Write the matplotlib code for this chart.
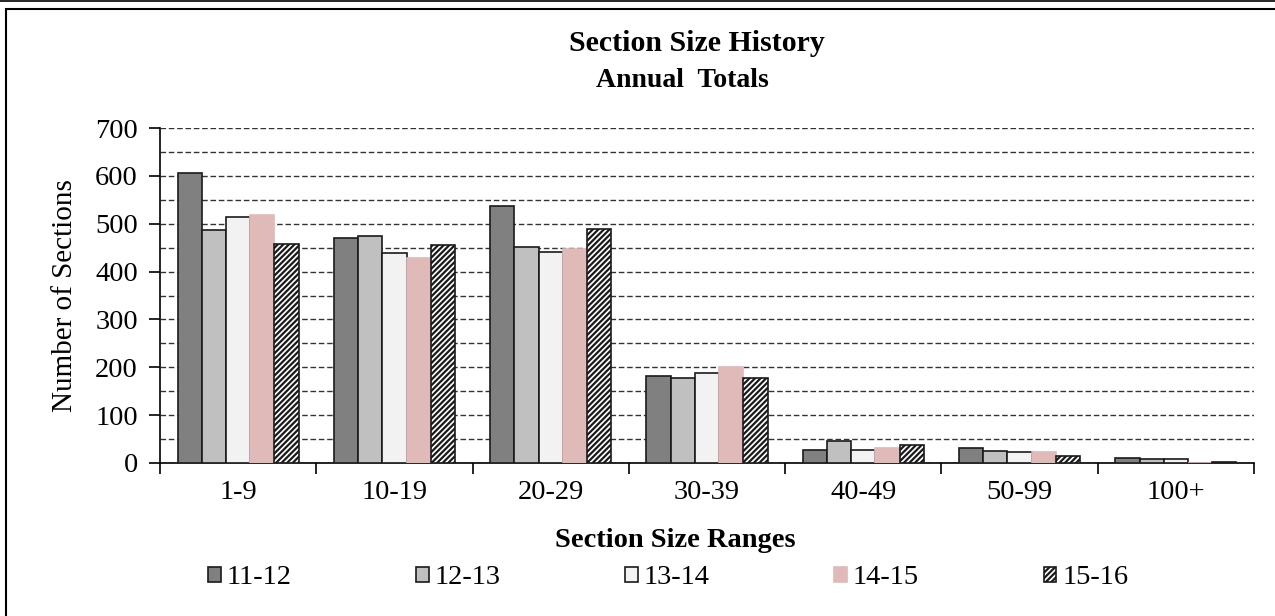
import matplotlib
matplotlib.use("Agg")
import matplotlib.pyplot as plt
import numpy as np
from matplotlib.patches import Rectangle
from matplotlib.lines import Line2D

plt.rcParams.update({'font.family': 'Liberation Serif'})
plt.rcParams.update({'hatch.linewidth': 1.6})

# Chart data
categories = ["1-9", "10-19", "20-29", "30-39", "40-49", "50-99", "100+"]
series_names = ["11-12", "12-13", "13-14", "14-15", "15-16"]
v_11_12 = [606, 470, 538, 182, 28, 31, 11]
v_12_13 = [487, 475, 452, 177, 45, 25, 8]
v_13_14 = [515, 438, 441, 189, 28, 23, 8]
v_14_15 = [519, 428, 448, 201, 32, 24, 0]
v_15_16 = [458, 455, 490, 177, 38, 15, 3]

series_values = [v_11_12, v_12_13, v_13_14, v_14_15, v_15_16]
face_colors = ["#808080", "#c0c0c0", "#f2f2f2", "#e0b9b9", "white"]
edge_colors = ["#1a1a1a", "#1a1a1a", "#1a1a1a", "#e0b9b9", "#1a1a1a"]
hatches = [None, None, None, None, "//////"]

W, H = 1275, 616
fig = plt.figure(figsize=(W / 100, H / 100), dpi=100)
ax = fig.add_axes([160 / W, 1 - 463 / H, (1254 - 160) / W, (463 - 128) / H])

x = np.arange(len(categories))
bar_w = 0.155
for i, vals in enumerate(series_values):
    offs = (i - 2) * bar_w
    ax.bar(x + offs, vals, width=bar_w, color=face_colors[i],
           edgecolor=edge_colors[i], linewidth=1.2, hatch=hatches[i],
           label=series_names[i], zorder=3)

ax.set_xlim(-0.5, len(categories) - 0.5)
ax.set_ylim(0, 700)
ax.set_yticks(np.arange(0, 701, 100))
ax.set_yticks(np.arange(0, 701, 50), minor=True)
ax.tick_params(axis='y', which='major', direction='out', length=8, width=1.2,
               labelsize=20.5, pad=8)
ax.tick_params(axis='y', which='minor', length=0)
ax.yaxis.grid(True, which='both', linestyle=(0, (4, 2)), color='#333333',
              linewidth=1.0, zorder=0)

ax.set_xticks(x)
ax.set_xticklabels(categories, fontsize=20.5)
ax.set_xticks(np.arange(-0.5, len(categories), 1), minor=True)
ax.tick_params(axis='x', which='major', length=0, pad=12)
ax.tick_params(axis='x', which='minor', direction='out', length=8, width=1.2)

for s in ["top", "right"]:
    ax.spines[s].set_visible(False)
for s in ["left", "bottom"]:
    ax.spines[s].set_linewidth(1.2)

ax.set_ylabel("Number of Sections", fontsize=21, labelpad=12)

# x axis title sits a little left of the axes centre, as in the source
fig.text(675 / W, 1 - 547 / H, "Section Size Ranges", ha='center',
         va='baseline', fontsize=20.5, fontweight='bold')

fig.text(697 / W, 1 - 51 / H, "Section Size History", ha='center',
         va='baseline', fontsize=21.5, fontweight='bold')
fig.text(682 / W, 1 - 87 / H, "Annual  Totals", ha='center', va='baseline',
         fontsize=20, fontweight='bold')

leg = fig.legend(*ax.get_legend_handles_labels(), loc='center',
                 bbox_to_anchor=(668 / W, 1 - 578 / H), ncol=5,
                 frameon=False, fontsize=20.5, handlelength=0.45,
                 handleheight=0.45, handletextpad=0.2, columnspacing=4.38,
                 borderpad=0)

# outer frame
fig.add_artist(Line2D([0, 1], [1 - 1 / H, 1 - 1 / H], color='black',
                      linewidth=1.2, transform=fig.transFigure))
fig.add_artist(Rectangle((6 / W, -0.01), 1.0, 1 - 9 / H + 0.01, fill=False,
                         edgecolor='black', linewidth=1.5,
                         transform=fig.transFigure))

fig.savefig("out.png", dpi=100)
